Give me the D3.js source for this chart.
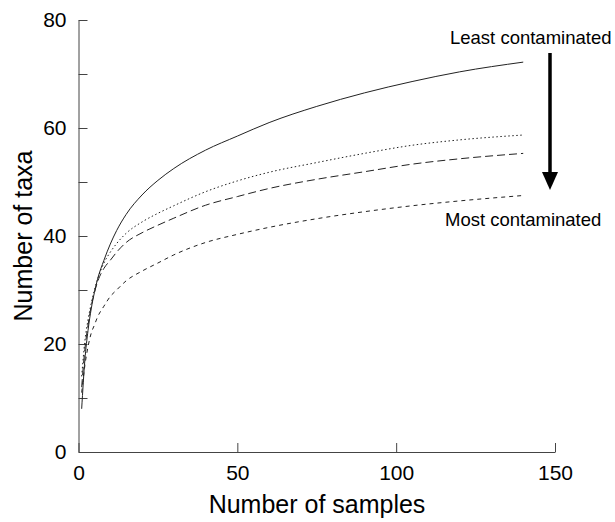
<!DOCTYPE html>
<html>
<head>
<meta charset="utf-8">
<script src="https://cdn.jsdelivr.net/npm/d3@7"></script>
<style>
  body { margin: 0; background: #fff; }
  svg { display: block; font-family: "Liberation Sans", Arial, sans-serif; }
</style>
</head>
<body>
<script>
const samples = [1, 2, 3, 4, 5, 6, 8, 10, 12, 15, 20, 25, 30, 40, 50, 60, 75, 90, 105, 120, 140];
const leastValues = [8, 17, 22.5, 26.5, 29.5, 32, 35.5, 38.5, 41, 44, 47.6, 50.3, 52.5, 55.9, 58.5, 61, 64, 66.5, 68.6, 70.4, 72.2];
const secondValues = [14, 20.5, 24.5, 27.5, 30, 32, 35, 37, 38.6, 40.5, 42.6, 44.2, 45.6, 48.2, 50.2, 51.8, 53.6, 55.3, 56.8, 57.8, 58.7];
const thirdValues = [12, 19, 23.5, 27, 29.5, 31.5, 34, 35.5, 37, 38.8, 40.6, 42, 43.3, 45.7, 47.3, 48.8, 50.5, 51.9, 53.3, 54.3, 55.3];
const mostValues = [11, 16, 19.5, 22, 23.5, 25, 27, 28.8, 30, 31.7, 33.5, 35, 36.5, 38.8, 40.3, 41.6, 43.2, 44.5, 45.6, 46.5, 47.5];
const xTicks = [0, 50, 100, 150];
const yTicks = [0, 10, 20, 30, 40, 50, 60, 70, 80];

const series = [
  { values: leastValues, dash: null },
  { values: secondValues, dash: "1.5,2.5" },
  { values: thirdValues, dash: "8,4" },
  { values: mostValues, dash: "4,4" }
];

const w = 615, h = 522;
const svg = d3.select("body").append("svg").attr("width", w).attr("height", h);

const x = d3.scaleLinear().domain([0, 150]).range([78.5, 555]);
const y = d3.scaleLinear().domain([0, 80]).range([452, 20]);

const xAxis = d3.axisBottom(x).tickValues(xTicks).tickSizeInner(-9).tickSizeOuter(0).tickPadding(13);
const yAxis = d3.axisLeft(y).tickValues(yTicks).tickSizeInner(-9).tickSizeOuter(0).tickPadding(12)
  .tickFormat(d => d % 20 === 0 ? d : "");

const gx = svg.append("g").attr("transform", "translate(0,452)").call(xAxis);
const gy = svg.append("g").attr("transform", "translate(78.5,0)").call(yAxis);

[gx, gy].forEach(g => {
  g.select(".domain").attr("stroke", "#444");
  g.selectAll(".tick line").attr("stroke", "#444");
  g.selectAll(".tick text").attr("font-size", 21).attr("fill", "#000")
    .attr("font-family", "'Liberation Sans', Arial, sans-serif");
});

const line = d3.line()
  .x((d, i) => x(samples[i]))
  .y(d => y(d))
  .curve(d3.curveMonotoneX);

series.forEach(s => {
  svg.append("path")
    .datum(s.values)
    .attr("d", line)
    .attr("fill", "none")
    .attr("stroke", "#222")
    .attr("stroke-width", 1)
    .attr("stroke-dasharray", s.dash);
});

// axis titles
svg.append("text")
  .attr("x", 317).attr("y", 513)
  .attr("text-anchor", "middle")
  .attr("font-size", 25)
  .text("Number of samples");

svg.append("text")
  .attr("transform", "translate(32,236) rotate(-90)")
  .attr("text-anchor", "middle")
  .attr("font-size", 25)
  .text("Number of taxa");

// annotation
svg.append("text").attr("x", 450).attr("y", 44).attr("font-size", 18.5).text("Least contaminated");
svg.append("text").attr("x", 445).attr("y", 226).attr("font-size", 18.5).text("Most contaminated");

svg.append("line")
  .attr("x1", 550).attr("x2", 550).attr("y1", 53).attr("y2", 174)
  .attr("stroke", "#000").attr("stroke-width", 3.5);
svg.append("path")
  .attr("d", "M542,172 L558,172 L550,190 Z")
  .attr("fill", "#000");
</script>
</body>
</html>
